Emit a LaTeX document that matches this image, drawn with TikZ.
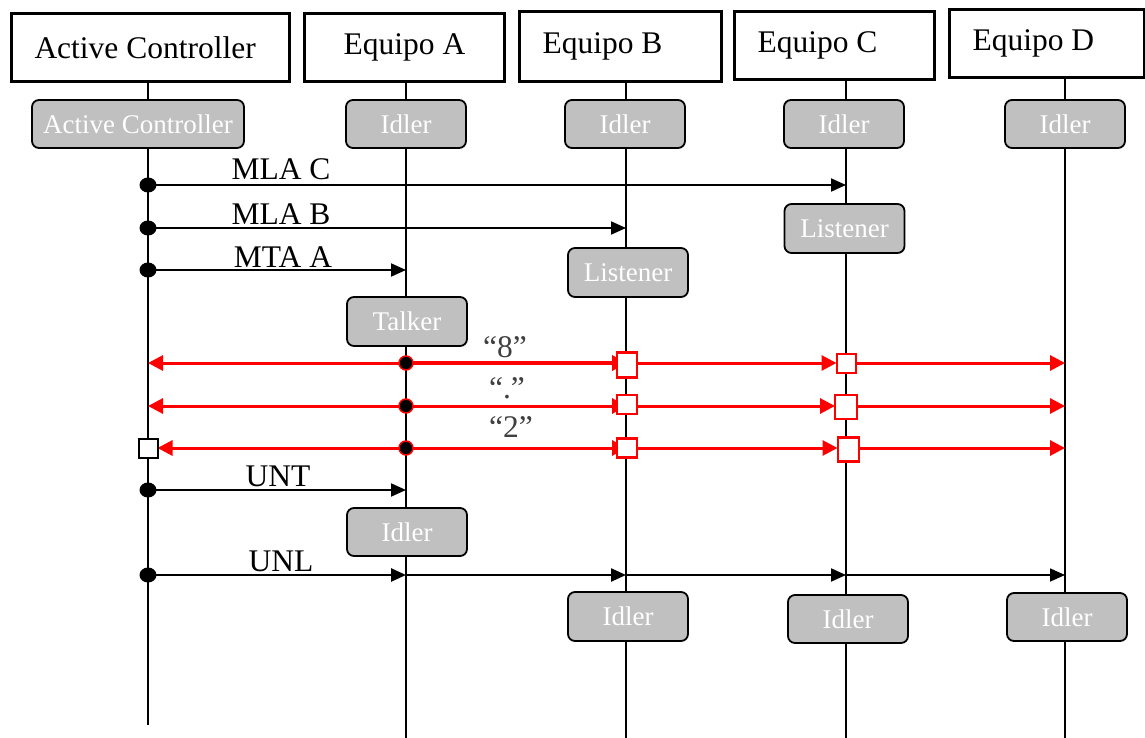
\documentclass[tikz,border=0pt]{standalone}
\usepackage{fontspec}
\setmainfont{Liberation Serif}
\usetikzlibrary{arrows.meta}
\definecolor{boxgray}{HTML}{C0C0C0}
\definecolor{labgray}{HTML}{404040}
\tikzset{
  head/.style={draw, line width=3pt, minimum height=68pt, inner xsep=23pt, inner ysep=0pt, anchor=north west, font=\fontsize{31.5}{36}\selectfont},
  state/.style={draw, line width=1.8pt, rounded corners=7pt, fill=boxgray, text=white, minimum height=48pt, minimum width=120pt, inner sep=0pt, font=\fontsize{27}{30}\selectfont},
  life/.style={line width=1.5pt},
  msg/.style={line width=2pt, -{Triangle[length=15pt,width=13pt]}},
  rmsg/.style={draw=red, line width=3pt, -{Triangle[length=15pt,width=15pt]}, red},
  bdot/.style={ellipse, fill=black, inner sep=0pt, minimum width=17pt, minimum height=15pt},
  rdot/.style={circle, fill=black, draw=red, line width=1.5pt, inner sep=0pt, minimum size=14pt},
  rsq/.style={draw=red, fill=white, line width=2.5pt, inner sep=0pt, minimum width=20pt, minimum height=20pt},
  bsq/.style={draw=black, fill=white, line width=2pt, inner sep=0pt, minimum size=19pt},
  lab/.style={font=\fontsize{31.5}{36}\selectfont, anchor=base, inner sep=0pt},
  glab/.style={lab, text=labgray},
}
\usetikzlibrary{shapes.geometric}
\begin{document}
\begin{tikzpicture}[x=1pt,y=-1pt]
\useasboundingbox (0,0) rectangle (1145,738);
% headers
\node[head] (hAC) at (10,12) {\makebox[232pt][l]{Active Controller}};
\node[head] (hA) at (303,12) {\makebox[154pt][c]{Equipo A}};
\node[head, minimum height=70pt] (hB) at (518,10) {\makebox[156pt][l]{Equipo B}};
\node[head] (hC) at (733,10) {\makebox[154pt][l]{Equipo C}};
\node[head] (hD) at (948,8) {\makebox[149pt][l]{Equipo D}};
% lifeline ends
\coordinate (eAC) at (148,725);
\coordinate (eA) at (406,738);
\coordinate (eB) at (626,738);
\coordinate (eC) at (846,738);
\coordinate (eD) at (1065,738);
\draw[life] (hAC.south -| eAC) -- (eAC);
\draw[life] (hA.south -| eA) -- (eA);
\draw[life] (hB.south -| eB) -- (eB);
\draw[life] (hC.south -| eC) -- (eC);
\draw[life] (hD.south -| eD) -- (eD);
% states
\node[state, minimum width=212pt] (sAC) at (138,124) {Active Controller};
\node[state] (sA1) at (406,124) {Idler};
\node[state] (sB1) at (625,124) {Idler};
\node[state] (sC1) at (844,124) {Idler};
\node[state] (sD1) at (1065,124) {Idler};
\node[state, minimum height=49pt] (sCL) at (844.5,228.5) {Listener};
\node[state, minimum height=49pt] (sBL) at (628,272.5) {Listener};
\node[state, minimum height=49pt] (sAT) at (407,321.5) {Talker};
\node[state] (sA2) at (407,532) {Idler};
\node[state, minimum height=49pt] (sB2) at (628,616.5) {Idler};
\node[state] (sC2) at (848,619) {Idler};
\node[state] (sD2) at (1067,617) {Idler};
% MLA C
\node[bdot] (d1) at (148,185) {};
\coordinate (c1) at (846,185);
\draw[msg] (d1.center) -- (c1);
\node[lab] (l1) at (281,180) {MLA C};
% MLA B
\node[bdot] (d2) at (148,228) {};
\coordinate (b2) at (626,228);
\draw[msg] (d2.center) -- (b2);
\node[lab] (l2) at (281,224) {MLA B};
% MTA A
\node[bdot] (d3) at (148,270) {};
\coordinate (a3) at (406,270);
\draw[msg] (d3.center) -- (a3);
\node[lab] (l3) at (283,267) {MTA A};
% red row 1 "8"
\coordinate (ac4) at (148,363);
\coordinate (pA4) at (406,363);
\coordinate (pB4) at (627,363);
\coordinate (pC4) at (846,363);
\coordinate (pD4) at (1065,363);
\draw[rmsg] (pA4) -- (ac4);
\draw[rmsg, line width=3.5pt] (pA4) -- (pB4);
\draw[rmsg, shorten >=9.5pt] (pB4) -- (pC4);
\draw[rmsg] (pC4) -- (pD4);
\node[rsq, minimum height=25pt] (b4) at (627,365) {};
\node[rsq, minimum width=19pt, minimum height=19pt] (c4) at (846.5,363.5) {};
\node[rdot] (a4) at (pA4) {};
\node[glab] (l4) at (505,357) {“8”};
% red row 2 "."
\coordinate (ac5) at (148,406);
\coordinate (pA5) at (406,406);
\coordinate (pB5) at (627,406);
\coordinate (pC5) at (846,406);
\coordinate (pD5) at (1065,406);
\draw[rmsg] (pA5) -- (ac5);
\draw[rmsg] (pA5) -- (pB5);
\draw[rmsg, shorten >=11pt] (pB5) -- (pC5);
\draw[rmsg] (pC5) -- (pD5);
\node[rsq, minimum height=19pt] (b5) at (627,404.5) {};
\node[rsq, minimum width=22pt, minimum height=24pt] (c5) at (846,407) {};
\node[rdot] (a5) at (pA5) {};
\node[glab] (l5) at (507,398) {“.”};
% red row 3 "2"
\coordinate (ac6) at (148,448);
\coordinate (pA6) at (406,448);
\coordinate (pB6) at (627,448);
\coordinate (pC6) at (848,448);
\coordinate (pD6) at (1065,448);
\draw[rmsg, shorten >=9.5pt] (pA6) -- (ac6);
\draw[rmsg] (pA6) -- (pB6);
\draw[rmsg, shorten >=10.5pt] (pB6) -- (pC6);
\draw[rmsg] (pC6) -- (pD6);
\node[bsq] (q6) at (ac6) {};
\node[rsq, minimum height=19pt] (b6) at (627,448) {};
\node[rsq, minimum width=21pt, minimum height=24pt] (c6) at (848.5,449.5) {};
\node[rdot] (a6) at (pA6) {};
\node[glab] (l6) at (511,437) {“2”};
% UNT
\node[bdot] (d7) at (148,490) {};
\coordinate (a7) at (406,490);
\draw[msg] (d7.center) -- (a7);
\node[lab] (l7) at (278,486) {UNT};
% UNL
\node[bdot] (d8) at (148,575) {};
\coordinate (a8) at (406,575);
\coordinate (b8) at (626,575);
\coordinate (c8) at (846,575);
\coordinate (e8) at (1065,575);
\draw[msg, line width=2.6pt] (d8.center) -- (a8);
\draw[msg, line width=2.4pt] (a8) -- (b8);
\draw[msg] (b8) -- (c8);
\draw[msg, line width=1.6pt] (c8) -- (e8);
\node[lab] (l8) at (281,571) {UNL};
\end{tikzpicture}
\end{document}
